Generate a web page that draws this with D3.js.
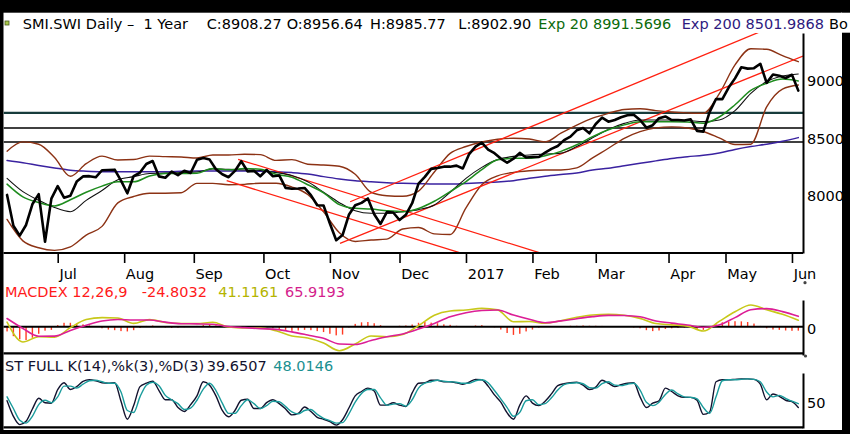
<!DOCTYPE html>
<html><head><meta charset="utf-8">
<script src="https://cdn.jsdelivr.net/npm/d3@7"></script>
<style>
html,body{margin:0;padding:0;background:#000;}
svg{display:block;}
text{font-family:"DejaVu Sans",Verdana,sans-serif;font-size:14.5px;white-space:pre;}
</style></head><body>
<svg id="c" width="850" height="434"></svg>
<script>
// ---------------- DATA ----------------
const monthLabels = ["Jul","Aug","Sep","Oct","Nov","Dec","2017","Feb","Mar","Apr","May","Jun"];
const monthStartDay = [17,38,60,82,103,125,146,167,187,210,228,249]; // trading-day index
const lastDay = 251;
const dailyFirst = 1, dailyStep = 2;   // close, histogram, stochastic sampled every 2 trading days
const weeklyFirst = 1, weeklyStep = 5; // smooth indicators sampled every 5 trading days

const closes = [
8007,7740,7655,7747,7926,8014,7602,7975,8083,7983,
8000,8122,8167,8169,8159,8220,8222,8225,8130,8021,
8170,8200,8274,8300,8167,8155,8208,8178,8216,8196,
8310,8325,8312,8228,8185,8160,8214,8298,8210,8215,
8168,8222,8168,8175,8068,8060,8062,8067,8005,7918,
7915,7760,7615,7660,7835,7918,7938,7976,7840,7756,
7858,7855,7790,7835,7935,8105,8163,8232,8240,8251,
8251,8260,8235,8360,8424,8458,8398,8367,8321,8285,
8320,8370,8330,8335,8335,8373,8405,8430,8480,8511,
8565,8585,8539,8620,8675,8640,8654,8678,8695,8700,
8654,8588,8609,8670,8685,8654,8654,8650,8660,8560,
8554,8725,8836,8835,8935,9014,9110,9098,9102,9140,
8975,9047,9037,9017,9045,8908];

const bbUpper = [8385,8465,8445,8330,8168,8277,8342,8309,8313,8342,
8338,8335,8326,8352,8352,8358,8355,8305,8312,8272,
8265,8255,8185,8030,8000,7995,8040,8205,8366,8425,
8464,8488,8496,8490,8465,8540,8610,8670,8712,8745,
8752,8735,8723,8716,8712,8880,9130,9270,9265,9210,9158];
const bbLower = [7795,7610,7550,7528,7558,7660,7735,7938,7993,8021,
8021,8025,8107,8107,8095,8098,8108,8108,8075,8010,
7860,7680,7605,7617,7625,7712,7725,7670,7665,7895,
8095,8172,8202,8216,8222,8222,8240,8327,8410,8496,
8554,8586,8595,8585,8555,8500,8442,8445,8768,8922,8957];
const bbMid = [8150,8035,7960,7898,7862,7960,8045,8138,8165,8192,
8195,8200,8205,8232,8228,8222,8218,8200,8175,8120,
8030,7940,7870,7848,7848,7862,7880,7920,8030,8150,
8245,8312,8340,8352,8360,8368,8425,8500,8572,8625,
8654,8654,8654,8650,8640,8654,8735,8885,8986,9034,9052];
const ema20 = [8100,7990,7941,7912,7965,8030,8083,8120,8120,8170,
8193,8193,8195,8235,8224,8235,8228,8185,8160,8095,
8025,7923,7891,7885,7870,7862,7890,7952,8036,8122,
8225,8310,8323,8323,8345,8383,8440,8510,8570,8612,
8640,8640,8640,8637,8626,8680,8786,8910,8971,9008,8992];
const ema200 = [8305,8285,8262,8240,8220,8212,8208,8208,8208,8208,
8208,8211,8214,8214,8214,8213,8211,8207,8200,8188,
8165,8145,8130,8121,8113,8107,8104,8101,8101,8106,
8112,8118,8130,8150,8168,8183,8197,8222,8237,8258,
8280,8301,8322,8337,8350,8370,8400,8425,8445,8470,8502];

const hLevels = [8715, 8585, 8464];
// trend lines: [trading day, price] pairs
const trendLines = [
  [[74.0, 8315], [172.0, 7484]],
  [[70.4, 8130], [146.0, 7491]],
  [[106.2, 7589], [252.5, 9207]],
  [[109.4, 7948], [240.0, 9429]]
];

const macd = [29,-97,-64,-67,-6,46,58,55,21,45,
27,20,20,28,-2,-8,-8,-26,-59,-72,
-104,-153,-110,-59,-64,-50,7,73,100,106,
117,107,32,33,22,38,60,75,79,73,
53,20,12,4,-27,34,95,138,108,79,41];
const signal = [52,-11,-61,-60,-24,9,36,46,43,43,
29,19,18,16,1,-6,-12,-17,-33,-53,
-74,-110,-113,-88,-64,-46,-15,21,63,89,
103,106,74,47,25,37,51,64,72,71,
63,36,23,11,-3,11,58,108,115,96,66];
const hist = [-30,-60,-80,-85,-70,-45,-25,-20,10,25,
25,20,15,8,3,-10,-18,-22,-28,-30,
-22,-8,5,8,2,-5,-8,-6,-3,2,
5,10,14,8,-2,-6,-8,-5,2,4,
2,-4,-10,-14,-20,-26,-24,-20,-22,-28,
-34,-45,-55,-50,-5,18,28,30,22,10,
2,3,6,8,14,25,30,26,22,15,
12,6,2,4,8,10,4,-4,-18,-40,
-52,-45,-30,-18,-6,-2,0,2,4,6,
6,8,6,6,5,4,2,0,-2,-5,
-10,-22,-28,-24,-14,-10,-8,-6,-8,-14,
-20,-5,15,28,32,35,34,30,20,5,
-10,-18,-20,-24,-26,-25];

const stochK = [54,22,5,12,37,59,50,49,77,91,
77,83,94,97,95,91,90,91,53,16,
44,83,90,94,75,56,56,40,32,46,
64,93,86,64,34,21,34,55,57,38,
38,50,56,48,37,25,28,41,32,20,
16,11,4,15,39,64,73,80,74,45,
45,50,45,42,70,90,91,96,96,93,
93,91,88,92,98,97,84,66,51,29,
16,45,64,49,44,53,68,85,89,91,
92,86,77,82,96,90,83,87,90,91,
62,40,49,54,80,73,64,61,61,55,
26,31,93,97,97,98,99,99,98,88,
56,68,63,55,52,40];
const stochD = [62,38,14,8,22,46,55,50,62,84,
84,80,88,95,96,93,90,90,72,34,
30,62,86,92,85,65,56,48,36,39,
55,78,90,75,49,28,28,44,56,48,
38,44,53,52,42,31,27,34,36,26,
18,13,8,9,27,51,69,77,77,60,
45,47,48,43,56,80,90,93,96,94,
93,92,90,90,95,97,91,75,58,40,
22,30,54,56,46,48,60,76,87,90,
91,89,81,80,89,93,86,85,88,90,
76,51,44,51,67,76,68,62,61,58,
40,28,62,95,97,97,98,99,98,93,
72,62,65,59,53,48];

const rightTicksMain = [8000, 8500, 9000];
const rightTicksMacd = [0];
const rightTicksStoch = [50];

// ---------------- DRAW ----------------
const W = 850, H = 434;
const svg = d3.select('#c');
svg.append('rect').attr('width', W).attr('height', H).attr('fill', '#000');
svg.append('rect').attr('x', 3.5).attr('y', 12.7).attr('width', 838.5).attr('height', 417.3).attr('fill', '#fff');
svg.append('rect').attr('x', 841).attr('y', 12.7).attr('width', 9).attr('height', 20).attr('fill', '#fff');

const defs = svg.append('defs');
defs.append('clipPath').attr('id', 'clipMain').append('rect').attr('x', 3.5).attr('y', 33).attr('width', 799.5).attr('height', 220);

const x = d3.scaleLinear().domain([0, lastDay]).range([3.9, 798.3]);
const yMain = d3.scaleLinear().domain([7505, 9406]).range([253, 33]);
const yMacd = d3.scaleLinear().domain([-180, 170]).range([355, 300]);
const yStoch = d3.scaleLinear().domain([-2, 111]).range([428, 373]);
const axisX = 803;

const dayW = i => weeklyFirst + weeklyStep * i;
const dayD = i => dailyFirst + dailyStep * i;
const weeklyLine = ys => d3.line().x((d, i) => x(dayW(i))).y(d => ys(d)).curve(d3.curveMonotoneX);
const dailyLine = (ys, curve) => d3.line().x((d, i) => x(dayD(i))).y(d => ys(d)).curve(curve || d3.curveLinear);

// ---- main panel
const gMain = svg.append('g').attr('clip-path', 'url(#clipMain)');
hLevels.forEach((v, i) => {
  gMain.append('line').attr('x1', 3.5).attr('x2', axisX).attr('y1', yMain(v)).attr('y2', yMain(v))
    .attr('stroke', i === 0 ? '#173c3c' : '#000').attr('stroke-width', i === 0 ? 2.2 : 1.3);
});
const addPath = (g, d, color, w) => g.append('path').attr('d', d).attr('fill', 'none')
  .attr('stroke', color).attr('stroke-width', w).attr('stroke-linejoin', 'round').attr('stroke-linecap', 'round');

addPath(gMain, weeklyLine(yMain)(ema200), '#3a22a0', 1.5);
addPath(gMain, weeklyLine(yMain)(bbUpper), '#8c3214', 1.4);
addPath(gMain, weeklyLine(yMain)(bbLower), '#8c3214', 1.4);
trendLines.forEach(t => {
  gMain.append('line').attr('x1', x(t[0][0])).attr('y1', yMain(t[0][1]))
    .attr('x2', x(t[1][0])).attr('y2', yMain(t[1][1])).attr('stroke', '#ff2010').attr('stroke-width', 1.3);
});
addPath(gMain, weeklyLine(yMain)(bbMid), '#111', 1.1);
addPath(gMain, weeklyLine(yMain)(ema20), '#1e8c1e', 1.5);
addPath(gMain, dailyLine(yMain)(closes), '#000', 2.6);

// main x axis
const ax = svg.append('g').attr('transform', 'translate(0,253)')
  .call(d3.axisBottom(x).tickValues(monthStartDay).tickSize(10).tickFormat((d, i) => monthLabels[i]));
ax.select('.domain').remove();
ax.selectAll('.tick line').attr('stroke', '#000').attr('stroke-width', 1.6);
ax.selectAll('.tick text').attr('text-anchor', 'start').attr('x', 1.2).attr('y', 26).attr('dy', 0)
  .attr('fill', '#000').style('font-size', '14.5px').style('font-family', '"DejaVu Sans",Verdana,sans-serif');
svg.append('line').attr('x1', 3.5).attr('x2', axisX).attr('y1', 253).attr('y2', 253).attr('stroke', '#000').attr('stroke-width', 2.2);

// right axes
function rightAxis(scale, ticks, dy) {
  const g = svg.append('g').attr('transform', `translate(${axisX},0)`)
    .call(d3.axisRight(scale).tickValues(ticks).tickSize(0).tickPadding(4).tickFormat(d3.format('d')));
  g.select('.domain').attr('stroke', '#000').attr('stroke-width', 2);
  g.selectAll('text').attr('fill', '#000').attr('dy', dy).style('font-size', '14.5px')
    .style('font-family', '"DejaVu Sans",Verdana,sans-serif');
  return g;
}
rightAxis(yMain, rightTicksMain, '0.36em');
rightAxis(yMacd, rightTicksMacd, '0.5em');
rightAxis(yStoch, rightTicksStoch, '0.36em');
[[805, 282.7], [805.5, 356]].forEach(p => svg.append('circle').attr('cx', p[0]).attr('cy', p[1]).attr('r', 1.6).attr('fill', '#444'));

// ---- MACD panel
const gM = svg.append('g');
gM.selectAll('rect.h').data(hist).enter().append('rect').attr('class', 'h')
  .attr('x', (d, i) => x(dayD(i)) - 0.7).attr('width', 1.4)
  .attr('y', d => Math.min(yMacd(0), yMacd(d))).attr('height', d => Math.abs(yMacd(d) - yMacd(0)))
  .attr('fill', '#ff3a22');
gM.append('line').attr('x1', 3.5).attr('x2', axisX).attr('y1', yMacd(0)).attr('y2', yMacd(0)).attr('stroke', '#000').attr('stroke-width', 2);
addPath(gM, weeklyLine(yMacd)(macd), '#c8c81a', 1.6);
addPath(gM, weeklyLine(yMacd)(signal), '#dc1e96', 1.6);
svg.append('line').attr('x1', 3.5).attr('x2', axisX).attr('y1', 353.3).attr('y2', 353.3).attr('stroke', '#000').attr('stroke-width', 2.2);

// ---- Stochastic panel
const gS = svg.append('g');
addPath(gS, dailyLine(yStoch, d3.curveMonotoneX)(stochK), '#12122e', 1.4);
addPath(gS, dailyLine(yStoch, d3.curveMonotoneX)(stochD), '#1a9c9c', 1.4);
svg.append('line').attr('x1', 3.5).attr('x2', axisX).attr('y1', 427.3).attr('y2', 427.3).attr('stroke', '#000').attr('stroke-width', 2.2);

// ---- labels
const gT = svg.append('g');
gT.append('rect').attr('x', 5).attr('y', 21).attr('width', 4).attr('height', 4).attr('fill', '#a8c84a').attr('stroke', '#4a5a20').attr('stroke-width', 0.8);
const hdr = [
  [22.7, 'SMI.SWI Daily –  1 Year', '#000'],
  [206.7, 'C:8908.27', '#000'],
  [286.7, 'O:8956.64', '#000'],
  [370, 'H:8985.77', '#000'],
  [458.3, 'L:8902.90', '#000'],
  [538.3, 'Exp 20 8991.5696', '#0b6b0b'],
  [681.7, 'Exp 200 8501.9868', '#2e1a80'],
  [829, 'Bo', '#000']
];
hdr.forEach(h => gT.append('text').attr('x', h[0]).attr('y', 28.5).attr('fill', h[2]).text(h[1]));
const macdLbl = [[5, 'MACDEX 12,26,9', '#ff1a1a'], [141.7, '-24.8032', '#ff1a1a'], [218.3, '41.1161', '#b4b400'], [285, '65.9193', '#d41e8c']];
macdLbl.forEach(h => gT.append('text').attr('x', h[0]).attr('y', 296.5).attr('fill', h[2]).text(h[1]));
const stLbl = [[5, 'ST FULL K(14),%k(3),%D(3)', '#12122e'], [206.7, '39.6507', '#12122e'], [273.3, '48.0146', '#1a9090']];
stLbl.forEach(h => gT.append('text').attr('x', h[0]).attr('y', 370.5).attr('fill', h[2]).text(h[1]));
</script>
</body></html>
